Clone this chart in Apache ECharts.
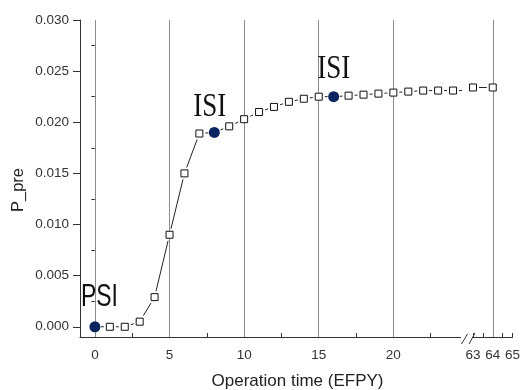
<!DOCTYPE html>
<html><head><meta charset="utf-8">
<script src="https://cdn.jsdelivr.net/npm/echarts@6/dist/echarts.min.js"></script>
<style>html,body{margin:0;padding:0;background:#fff}#c{width:520px;height:390px}</style>
</head><body><div id="c"></div>
<script>
// ---- data ----
const times = [0,1,2,3,4,5,6,7,8,9,10,11,12,13,14,15,16,17,18,19,20,21,22,23,24,63,64];
const pPre  = [0,0,0,0.0005,0.0029,0.0090,0.0150,0.0189,0.0190,0.0196,0.0203,0.0210,0.0215,0.0220,0.0223,0.0225,0.0225,0.0226,0.0227,0.0228,0.0229,0.0230,0.0231,0.0231,0.0231,0.0234,0.0234];
const inspTimes = [0, 8, 16];
const inspNames = ['PSI', 'ISI', 'ISI'];
const xLabelsLeft  = [0, 5, 10, 15, 20];
const xMinorLeft   = [2.5, 7.5, 12.5, 17.5, 22.5];
const xLabelsRight = [63, 64, 65];
const xMinorRight  = [63.5, 64.5];
const yLabels = [0, 0.005, 0.010, 0.015, 0.020, 0.025, 0.030];
const yMinor  = [0.0025, 0.0075, 0.0125, 0.0175, 0.0225, 0.0275];
const gridLinesLeft = [0, 5, 10, 15, 20];
const gridLinesRight = [64];
const xName = 'Operation time (EFPY)';
const yName = 'P_pre';

// ---- chart ----
const LEFT = [-1, 24.5], RIGHT = [63, 65], YR = [-0.001, 0.030];
const pts = times.map((t, i) => [t, pPre[i]]);
const inRange = (r) => pts.filter(p => p[0] >= r[0] && p[0] <= r[1]);
const insp = inspTimes.map(t => [t, pPre[times.indexOf(t)]]);
const font = 'Liberation Sans, Arial, sans-serif';
const axisCol = '#333';

function xAxisCfg(gi, r, labels, minor) {
  return {
    gridIndex: gi, type: 'value', min: r[0], max: r[1],
    axisLine: { show: true, onZero: false, lineStyle: { color: axisCol, width: 1 } },
    axisTick: { show: true, inside: true, length: 4, customValues: labels.concat(minor), lineStyle: { color: axisCol } },
    axisLabel: { customValues: labels, margin: 11, fontSize: 13.5, color: '#333', fontFamily: font },
    splitLine: { show: false }
  };
}
function lineSeries(xi, yi, gl) {
  return {
    type: 'line', xAxisIndex: xi, yAxisIndex: yi, data: pts, symbol: 'none', clip: true, z: 1,
    lineStyle: { color: '#222', width: 1 }, silent: true, animation: false,
    markLine: { silent: true, z: 3, symbol: ['none', 'none'], label: { show: false }, animation: false,
      lineStyle: { color: '#8c8c8c', width: 1, type: 'solid' }, data: gl.map(v => ({ xAxis: v })) }
  };
}
function scat(xi, yi, data, symbol, size, style, z) {
  return { type: 'scatter', xAxisIndex: xi, yAxisIndex: yi, data, symbol, symbolSize: size,
    itemStyle: Object.assign({ opacity: 1 }, style), z, silent: true, animation: false };
}
const sq = { color: '#fff', borderColor: '#111', borderWidth: 1 };
const halo = { color: '#fff' };

const chart = echarts.init(document.getElementById('c'), null, { renderer: 'canvas' });
chart.setOption({
  animation: false,
  grid: [
    { left: 80, top: 20, width: 380.5, height: 317, outerBoundsMode: 'none', containLabel: false },
    { left: 473, top: 20, width: 39.5, height: 317, outerBoundsMode: 'none', containLabel: false }
  ],
  xAxis: [xAxisCfg(0, LEFT, xLabelsLeft, xMinorLeft), xAxisCfg(1, RIGHT, xLabelsRight, xMinorRight)],
  yAxis: [
    { gridIndex: 0, type: 'value', position: 'left', min: YR[0], max: YR[1],
      axisLine: { show: true, onZero: false, lineStyle: { color: axisCol } },
      axisTick: { show: true, inside: false, length: 7, customValues: yLabels, lineStyle: { color: axisCol } },
      axisLabel: { customValues: yLabels, margin: 11, fontSize: 13.5, color: '#333', fontFamily: font,
        formatter: v => v.toFixed(3) },
      splitLine: { show: false } },
    { gridIndex: 0, type: 'value', position: 'left', min: YR[0], max: YR[1],
      axisLine: { show: false },
      axisTick: { show: true, inside: false, length: 3.5, customValues: yMinor, lineStyle: { color: axisCol } },
      axisLabel: { show: false }, splitLine: { show: false } },
    { gridIndex: 1, type: 'value', min: YR[0], max: YR[1], show: false }
  ],
  series: [
    lineSeries(0, 0, gridLinesLeft),
    lineSeries(1, 2, gridLinesRight),
    scat(0, 0, inRange(LEFT), 'rect', 12, halo, 2),
    scat(1, 2, inRange(RIGHT), 'rect', 12, halo, 2),
    scat(0, 0, inRange(LEFT), 'rect', 7, sq, 6),
    scat(1, 2, inRange(RIGHT), 'rect', 7, sq, 6),
    scat(0, 0, insp, 'circle', 11, { color: '#0a2460' }, 7)
  ]
});

// ---- annotations & decorations ----
const labelStyle = {
  PSI: { family: 'Liberation Sans, Arial, sans-serif', size: 31, scaleX: 0.74 },
  ISI: { family: 'Liberation Serif, Times New Roman, serif', size: 33, scaleX: 0.82 }
};
const labelOffsets = [[4.5, -29], [-4.5, -25], [0, -27.5]];
const g = [];
insp.forEach((p, i) => {
  const px = chart.convertToPixel({ seriesIndex: 0 }, p);
  const st = labelStyle[inspNames[i]];
  g.push({ type: 'text', x: px[0] + labelOffsets[i][0], y: px[1] + labelOffsets[i][1], scaleX: st.scaleX, z: 100,
    style: { text: inspNames[i], font: st.size + 'px ' + st.family, fill: '#111',
      align: 'center', verticalAlign: 'middle', textAlign: 'center', textVerticalAlign: 'middle' } });
});
const a = chart.convertToPixel({ seriesIndex: 0 }, [LEFT[1], YR[0]]);
const b = chart.convertToPixel({ seriesIndex: 1 }, [RIGHT[0], YR[0]]);
g.push({ type: 'line', z: 100, shape: { x1: a[0] + 1, y1: a[1] + 7, x2: a[0] + 7, y2: a[1] - 3 }, style: { stroke: axisCol, lineWidth: 1 } });
g.push({ type: 'line', z: 100, shape: { x1: b[0] - 4, y1: b[1] + 7, x2: b[0] + 2, y2: b[1] - 4 }, style: { stroke: axisCol, lineWidth: 1 } });
g.push({ type: 'text', x: 297.5, y: 381, z: 100,
  style: { text: xName, font: '17px ' + font, fill: '#222', align: 'center', verticalAlign: 'middle', textAlign: 'center', textVerticalAlign: 'middle' } });
g.push({ type: 'text', x: 18, y: 190, rotation: Math.PI / 2, z: 100,
  style: { text: yName, font: '16.5px ' + font, fill: '#222', align: 'center', verticalAlign: 'middle', textAlign: 'center', textVerticalAlign: 'middle' } });
chart.setOption({ graphic: g });
</script>
</body></html>
